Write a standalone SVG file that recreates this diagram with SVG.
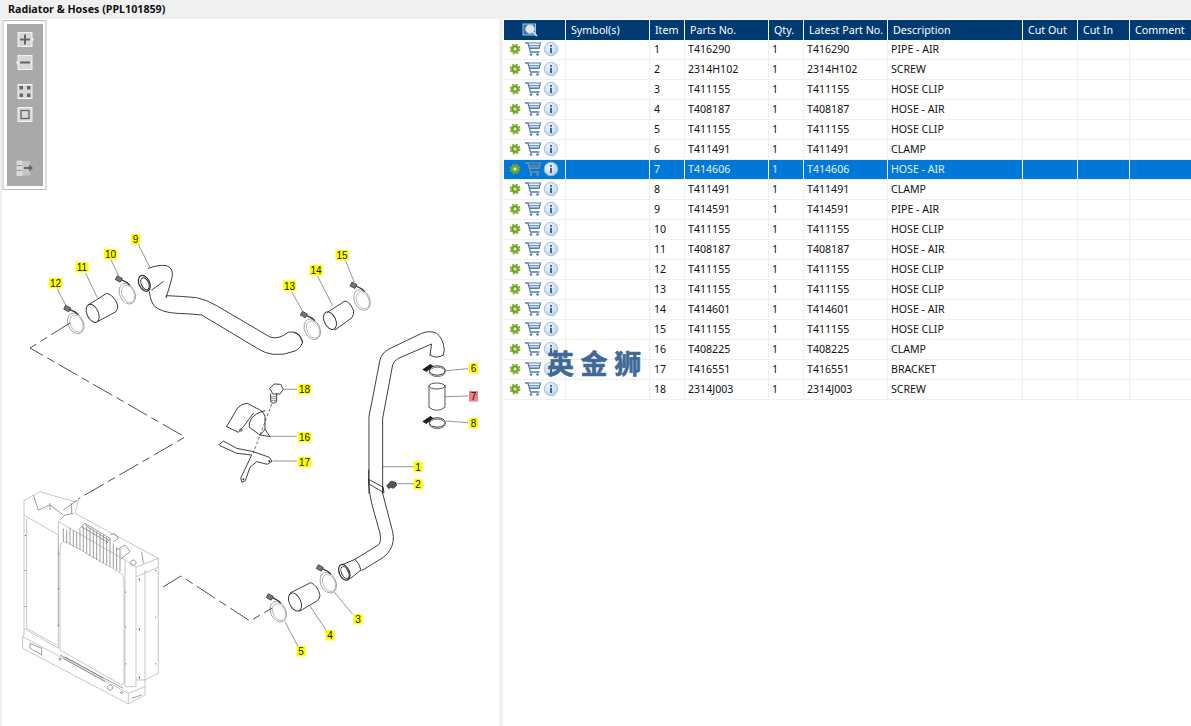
<svg xmlns="http://www.w3.org/2000/svg" xmlns:xlink="http://www.w3.org/1999/xlink" width="1191" height="726" viewBox="0 0 1191 726">
<style>
text{font-family:"Noto Sans","Open Sans","Liberation Sans",sans-serif}
.title{font-size:10.7px;font-weight:700;fill:#111}
.h{font-size:10.7px;fill:#fff}
.c{font-size:10.6px;fill:#111}
.sel{fill:#e6f0fa}
.grid{stroke:#efefef;stroke-width:1;fill:none}
.hs{stroke:#fff;stroke-width:1}
.lab{font-size:10px;fill:#111;text-anchor:middle;font-family:"Liberation Sans",sans-serif}
.y{fill:#ffff00}.p{fill:#f08080}
.k{fill:none;stroke:#2a2a2a;stroke-width:2.7;stroke-linejoin:round;stroke-linecap:round}
.g{fill:none;stroke:#999;stroke-width:2.4}
.r{fill:none;stroke:#aaa;stroke-width:2}
.r2{fill:none;stroke:#777;stroke-width:2.2}
.btn{fill:#d8d8d8;stroke:#f2f2f2;stroke-width:1}
.bg{fill:#666}
</style>
<defs>
<radialGradient id="ig" cx=".4" cy=".35" r=".8"><stop offset="0" stop-color="#f4f8fc"/><stop offset="1" stop-color="#a9c8e4"/></radialGradient>
<g id="gear"><circle r="4" fill="#76a82a"/><circle r="4.7" fill="none" stroke="#76a82a" stroke-width="1.4" stroke-dasharray="2.1 1.6"/><circle r="1.5" fill="#e4efc8"/></g>
<g id="cart" fill="none" stroke="currentColor"><path d="M-8-6h3l2.500 9h9" stroke-width="1.300"/><path d="M-4.500-6H7.500L6-.5H-3" stroke-width="1.200"/><path d="M-4-3.600H7M-3.400-1.800H6.400" stroke-width=".9"/><circle cx="-2" cy="5.500" r="1.300" fill="currentColor" stroke="none"/><circle cx="4.500" cy="5.500" r="1.300" fill="currentColor" stroke="none"/></g>
<g id="info"><circle r="6.800" fill="url(#ig)" stroke="#9dbbd8" stroke-width=".8"/><rect x="-1" y="-1.200" width="2" height="5.200" fill="#35699c"/><rect x="-1" y="-4" width="2" height="1.800" fill="#35699c"/></g>
<g id="clip"><ellipse cx="0" cy="0" rx="7.600" ry="10.800" transform="rotate(-25)" class="g" style="stroke-width:.8"/><ellipse cx="0.600" cy="0.600" rx="6" ry="9" transform="rotate(-25)" class="g" style="stroke-width:.6"/><path d="M-7-14.500l7 3.500l2.500 2.500" fill="none" stroke="#333" stroke-width="1.300"/><path d="M-10-18l5 2.700l-2 3.800l-5-2.700z" fill="#777" stroke="#333" stroke-width=".8"/></g>
<g id="clamp"><ellipse cx="0" cy="0" rx="8" ry="4.700" fill="none" stroke="#333" stroke-width="1"/><ellipse cx="0" cy="1.400" rx="8" ry="4.700" fill="none" stroke="#555" stroke-width=".8"/><path d="M-15-1l8-5.500l3 2l-7 6z" fill="#222"/></g>
</defs>
<rect width="1191" height="726" fill="#fff"/>
<g id="title-bar"><rect width="1191" height="19" fill="#f0f0f0"/><text class="title" x="8" y="12.500">Radiator &amp; Hoses (PPL101859)</text><rect x="499" y="19" width="4" height="707" fill="#f0f0f0"/><rect y="19" width="2" height="707" fill="#f0f0f0"/></g>
<g id="toolbar">
<rect x="3" y="20.500" width="43" height="169" fill="#fff" stroke="#bbb"/><rect x="7" y="24" width="36" height="162" fill="#a9a9a9"/>
<rect class="btn" x="18" y="32.500" width="14" height="14"/><path class="bg" d="M20 38.500h10v2H20zM24 34.500h2v10h-2z"/><path d="M32 37l2 2.500-2 2.500z" fill="#eee"/>
<rect class="btn" x="18" y="55.500" width="14" height="14"/><path class="bg" d="M20 61.500h10v2H20z"/><path d="M18 60l-2 2.500 2 2.500z" fill="#eee"/>
<rect class="btn" x="18" y="84.500" width="14" height="14"/><path class="bg" d="M19.500 86h3.500v3.500h-3.500zM27 86h3.500v3.500H27zM19.500 93.500h3.500v3.500h-3.500zM27 93.500h3.500v3.500H27z"/>
<rect class="btn" x="18" y="107.500" width="14" height="14"/><rect x="21" y="110.500" width="8" height="8" fill="none" stroke="#666" stroke-width="1.300"/>
<rect x="17" y="161" width="5" height="14.500" fill="#d8d8d8" stroke="#eee" stroke-width=".6"/><path d="M17 165.500h5M17 170.500h5" stroke="#888" stroke-width=".8"/><rect x="22" y="161" width="8" height="14.500" fill="#d0d0d0" opacity=".7"/><path class="bg" d="M24 167h5v-2.500l4 3.500-4 3.500V169h-5z"/>
</g>
<g id="parts-table">
<rect x="504" y="20" width="687" height="20" fill="#003a72"/>
<rect x="504" y="160" width="687" height="20" fill="#0078d7"/>
<path class="grid" d="M504 59.500H1191M504 79.500H1191M504 99.500H1191M504 119.500H1191M504 139.500H1191M504 159.500H1191M504 179.500H1191M504 199.500H1191M504 219.500H1191M504 239.500H1191M504 259.500H1191M504 279.500H1191M504 299.500H1191M504 319.500H1191M504 339.500H1191M504 359.500H1191M504 379.500H1191M504 399.500H1191"/>
<path class="grid" d="M565.500 40V400M649.500 40V400M684.500 40V400M768.500 40V400M803.500 40V400M887.500 40V400M1022.500 40V400M1077.500 40V400M1129.500 40V400"/>
<path class="hs" d="M565.500 20V40M649.500 20V40M684.500 20V40M768.500 20V40M803.500 20V40M887.500 20V40M1022.500 20V40M1077.500 20V40M1129.500 20V40"/>
<path class="hs" d="M565.500 160V180M649.500 160V180M684.500 160V180M768.500 160V180M803.500 160V180M887.500 160V180M1022.500 160V180M1077.500 160V180M1129.500 160V180" stroke-opacity=".8"/>
<g id="find-icon"><rect x="523" y="24" width="12.500" height="11" fill="#2f6fa8" stroke="#9cc6e6"/><circle cx="530" cy="29" r="4.500" fill="#e4e4e4" stroke="#a9bbcb"/><path d="M533 32l4 4" stroke="#cfe3f3" stroke-width="1.700"/></g>
<text class="h" x="571" y="34">Symbol(s)</text><text class="h" x="655" y="34">Item</text><text class="h" x="690" y="34">Parts No.</text><text class="h" x="774" y="34">Qty.</text><text class="h" x="809" y="34">Latest Part No.</text><text class="h" x="893" y="34">Description</text><text class="h" x="1028" y="34">Cut Out</text><text class="h" x="1083" y="34">Cut In</text><text class="h" x="1135" y="34">Comment</text>
<g id="row-icons" color="#4f7fb0">
<use href="#gear" x="515" y="49"/><use href="#cart" x="533" y="49"/><use href="#info" x="551" y="49"/>
<use href="#gear" x="515" y="69"/><use href="#cart" x="533" y="69"/><use href="#info" x="551" y="69"/>
<use href="#gear" x="515" y="89"/><use href="#cart" x="533" y="89"/><use href="#info" x="551" y="89"/>
<use href="#gear" x="515" y="109"/><use href="#cart" x="533" y="109"/><use href="#info" x="551" y="109"/>
<use href="#gear" x="515" y="129"/><use href="#cart" x="533" y="129"/><use href="#info" x="551" y="129"/>
<use href="#gear" x="515" y="149"/><use href="#cart" x="533" y="149"/><use href="#info" x="551" y="149"/>
<use href="#gear" x="515" y="169"/><use href="#cart" x="533" y="169" color="#7d8ea0"/><use href="#info" x="551" y="169"/>
<use href="#gear" x="515" y="189"/><use href="#cart" x="533" y="189"/><use href="#info" x="551" y="189"/>
<use href="#gear" x="515" y="209"/><use href="#cart" x="533" y="209"/><use href="#info" x="551" y="209"/>
<use href="#gear" x="515" y="229"/><use href="#cart" x="533" y="229"/><use href="#info" x="551" y="229"/>
<use href="#gear" x="515" y="249"/><use href="#cart" x="533" y="249"/><use href="#info" x="551" y="249"/>
<use href="#gear" x="515" y="269"/><use href="#cart" x="533" y="269"/><use href="#info" x="551" y="269"/>
<use href="#gear" x="515" y="289"/><use href="#cart" x="533" y="289"/><use href="#info" x="551" y="289"/>
<use href="#gear" x="515" y="309"/><use href="#cart" x="533" y="309"/><use href="#info" x="551" y="309"/>
<use href="#gear" x="515" y="329"/><use href="#cart" x="533" y="329"/><use href="#info" x="551" y="329"/>
<use href="#gear" x="515" y="349"/><use href="#cart" x="533" y="349"/><use href="#info" x="551" y="349"/>
<use href="#gear" x="515" y="369"/><use href="#cart" x="533" y="369"/><use href="#info" x="551" y="369"/>
<use href="#gear" x="515" y="389"/><use href="#cart" x="533" y="389"/><use href="#info" x="551" y="389"/>
</g>
<g>
<text class="c" x="654" y="53">1</text><text class="c" x="688" y="53">T416290</text><text class="c" x="772" y="53">1</text><text class="c" x="807" y="53">T416290</text><text class="c" x="891" y="53">PIPE - AIR</text>
<text class="c" x="654" y="73">2</text><text class="c" x="688" y="73">2314H102</text><text class="c" x="772" y="73">1</text><text class="c" x="807" y="73">2314H102</text><text class="c" x="891" y="73">SCREW</text>
<text class="c" x="654" y="93">3</text><text class="c" x="688" y="93">T411155</text><text class="c" x="772" y="93">1</text><text class="c" x="807" y="93">T411155</text><text class="c" x="891" y="93">HOSE CLIP</text>
<text class="c" x="654" y="113">4</text><text class="c" x="688" y="113">T408187</text><text class="c" x="772" y="113">1</text><text class="c" x="807" y="113">T408187</text><text class="c" x="891" y="113">HOSE - AIR</text>
<text class="c" x="654" y="133">5</text><text class="c" x="688" y="133">T411155</text><text class="c" x="772" y="133">1</text><text class="c" x="807" y="133">T411155</text><text class="c" x="891" y="133">HOSE CLIP</text>
<text class="c" x="654" y="153">6</text><text class="c" x="688" y="153">T411491</text><text class="c" x="772" y="153">1</text><text class="c" x="807" y="153">T411491</text><text class="c" x="891" y="153">CLAMP</text>
<text class="c sel" x="654" y="173">7</text><text class="c sel" x="688" y="173">T414606</text><text class="c sel" x="772" y="173">1</text><text class="c sel" x="807" y="173">T414606</text><text class="c sel" x="891" y="173">HOSE - AIR</text>
<text class="c" x="654" y="193">8</text><text class="c" x="688" y="193">T411491</text><text class="c" x="772" y="193">1</text><text class="c" x="807" y="193">T411491</text><text class="c" x="891" y="193">CLAMP</text>
<text class="c" x="654" y="213">9</text><text class="c" x="688" y="213">T414591</text><text class="c" x="772" y="213">1</text><text class="c" x="807" y="213">T414591</text><text class="c" x="891" y="213">PIPE - AIR</text>
<text class="c" x="654" y="233">10</text><text class="c" x="688" y="233">T411155</text><text class="c" x="772" y="233">1</text><text class="c" x="807" y="233">T411155</text><text class="c" x="891" y="233">HOSE CLIP</text>
<text class="c" x="654" y="253">11</text><text class="c" x="688" y="253">T408187</text><text class="c" x="772" y="253">1</text><text class="c" x="807" y="253">T408187</text><text class="c" x="891" y="253">HOSE - AIR</text>
<text class="c" x="654" y="273">12</text><text class="c" x="688" y="273">T411155</text><text class="c" x="772" y="273">1</text><text class="c" x="807" y="273">T411155</text><text class="c" x="891" y="273">HOSE CLIP</text>
<text class="c" x="654" y="293">13</text><text class="c" x="688" y="293">T411155</text><text class="c" x="772" y="293">1</text><text class="c" x="807" y="293">T411155</text><text class="c" x="891" y="293">HOSE CLIP</text>
<text class="c" x="654" y="313">14</text><text class="c" x="688" y="313">T414601</text><text class="c" x="772" y="313">1</text><text class="c" x="807" y="313">T414601</text><text class="c" x="891" y="313">HOSE - AIR</text>
<text class="c" x="654" y="333">15</text><text class="c" x="688" y="333">T411155</text><text class="c" x="772" y="333">1</text><text class="c" x="807" y="333">T411155</text><text class="c" x="891" y="333">HOSE CLIP</text>
<text class="c" x="654" y="353">16</text><text class="c" x="688" y="353">T408225</text><text class="c" x="772" y="353">1</text><text class="c" x="807" y="353">T408225</text><text class="c" x="891" y="353">CLAMP</text>
<text class="c" x="654" y="373">17</text><text class="c" x="688" y="373">T416551</text><text class="c" x="772" y="373">1</text><text class="c" x="807" y="373">T416551</text><text class="c" x="891" y="373">BRACKET</text>
<text class="c" x="654" y="393">18</text><text class="c" x="688" y="393">2314J003</text><text class="c" x="772" y="393">1</text><text class="c" x="807" y="393">2314J003</text><text class="c" x="891" y="393">SCREW</text>
</g>
</g>
<g id="watermark"><text x="547" y="374" stroke="#3f6a98" stroke-width=".6" style="font-family:'Noto Sans CJK SC','Noto Sans',sans-serif;font-size:27px;font-weight:700;letter-spacing:6.600px" fill="#3f6a98">英金狮</text></g>

<g id="radiator" transform="translate(10 480) scale(.3333)">
<path class="r" d="M42 62L90 35L140 50L195 65L205 60L195 100L445 235V580L405 600V645L355 672L38 505V470L42 465V62Z"/>
<path class="r" d="M42 105L145 165V440M50 115V445L140 495M42 445L145 505M38 470L355 640V672M355 640L405 620"/>
<path class="r" d="M145 125L345 240V620M145 125V505M345 240L378 262V620L345 620M378 262L445 235M378 290L445 262M405 270V600M378 600L405 600"/>
<path class="r" d="M160 185Q150 190 150 205V510L335 615Q342 615 342 605V300Q342 285 330 278L170 186Z"/>
<path class="r2" d="M70 45L85 90L120 75L160 105M120 70V90M185 70V100M150 120L165 105L190 100M160 90L200 62"/>
<path class="r2" d="M160 145V185M170 150V190M180 145V195M190 150V200M200 155V205M210 150V210M220 140V215M230 140V222M240 145V228M250 150V235M260 155V240M270 160V245M280 165V250M290 170V255M300 175V260M310 190V265M320 200V270M330 205V275"/>
<path class="r2" d="M205 150L225 130L300 175L290 190M215 140L290 185M225 135L295 180M300 165Q315 155 325 175L310 185M320 210L345 195L360 215L335 235M395 215L400 250M370 240a8 8 0 1 0 .1 0"/>
<path class="r2" d="M150 525L340 625M160 535L285 605M165 530L280 595M300 615a8 8 0 1 0 .1 0M60 490L95 505V525L60 505ZM150 535a3 3 0 1 0 .1 0M335 635a3 3 0 1 0 .1 0M365 655L395 645"/>
<path d="M46 165v3M46 270v3M46 378v3M146 220v3M146 325v3M146 435v3M347 335v3M347 440v3M347 550v3M388 295v6M388 445v6M388 590v6M437 270v3M437 410v3M437 550v3" stroke="#555" stroke-width="3"/>
</g>

<g id="part-9" transform="translate(20 225) scale(.3333)">
<path class="k" d="M385 130Q415 118 440 122Q462 130 456 158Q448 190 438 218L440 212Q490 214 530 218Q560 224 590 242L750 336Q775 345 805 322Q825 318 838 330L848 352Q840 372 825 378Q790 392 760 388Q735 385 715 372L545 270Q510 266 470 265Q425 262 405 245Q392 232 388 200"/>
<path class="k" d="M395 195L430 170"/>
<ellipse class="k" cx="373" cy="175" rx="16" ry="25" transform="rotate(-25 373 175)" style="stroke-width:3.500"/>
<ellipse class="k" cx="375" cy="176" rx="11" ry="19" transform="rotate(-25 375 176)"/>
<path class="k" d="M822 322Q845 330 848 352"/>
</g>
<g id="part-11" transform="translate(20 225) scale(.3333)"><path class="k" d="M205 240L260 205Q282 210 293 240Q295 250 288 260L232 290"/><ellipse class="k" cx="218" cy="265" rx="17" ry="29" transform="rotate(-25 218 265)"/></g>
<g id="part-14" transform="translate(20 225) scale(.3333)"><path class="k" d="M922 262L975 228Q992 232 1001 258Q1002 268 996 278L945 315"/><ellipse class="k" cx="930" cy="287" rx="17" ry="28" transform="rotate(-25 930 287)"/></g>
<g id="part-4" transform="translate(260 470) scale(.3333)"><path class="k" d="M92 368L152 338Q172 345 180 375Q180 385 172 392L120 423"/><ellipse class="k" cx="105" cy="396" rx="17" ry="29" transform="rotate(-25 105 396)"/></g>
<g id="part-10"><use href="#clip" x="127.300" y="293.700"/></g>
<g id="part-12"><use href="#clip" x="75.700" y="323.300"/></g>
<g id="part-13"><use href="#clip" x="312.300" y="329.300"/></g>
<g id="part-15"><use href="#clip" x="362" y="300"/></g>
<g id="part-3"><use href="#clip" x="328.300" y="582.700"/></g>
<g id="part-5"><use href="#clip" x="278.300" y="611.700"/></g>
<g id="part-1">
<g transform="translate(210 320) scale(.3333)">
<path class="k" d="M477 520V290L510 120Q515 100 535 88L635 40Q660 30 680 40Q700 55 703 90L700 105"/>
<path class="k" d="M518 520V295L548 135Q552 122 565 115L665 72L660 105"/>
<path class="k" d="M660 105Q680 118 700 105"/>
</g>
<g transform="translate(260 470) scale(.3333)">
<path class="k" d="M326 0V40Q328 70 335 100L360 190Q365 215 355 225L285 268"/>
<path class="k" d="M368 50V70L398 185Q405 215 390 240Q385 250 370 262L305 302"/>
<path class="k" d="M326 28L370 52L372 68L330 44Z"/>
<path class="k" d="M250 283L285 268Q298 280 303 300L272 325"/>
<ellipse class="k" cx="253" cy="307" rx="15" ry="25" transform="rotate(-25 253 307)" style="stroke-width:3.500"/>
<ellipse class="k" cx="255" cy="308" rx="10" ry="19" transform="rotate(-25 255 308)"/>
</g>
</g>
<g id="part-2" transform="translate(210 320) scale(.3333)"><path d="M530 497l14-14l14 5l2 9l-10 8l-8-3l-6 4z" fill="#555" stroke="#222" stroke-width="2"/></g>
<g id="part-6"><use href="#clamp" x="437.300" y="370.500"/></g>
<g id="part-7" transform="translate(210 320) scale(.3333)"><path class="k" d="M657 198V262Q680 280 705 262V198" style="stroke:#444"/><ellipse class="k" cx="681" cy="198" rx="24" ry="9" style="stroke:#444"/></g>
<g id="part-8"><use href="#clamp" x="437.300" y="422.500"/></g>
<g id="part-16" transform="translate(210 320) scale(.3333)"><path class="k" d="M50 320L82 265Q95 250 112 250L140 265Q160 272 165 290V328L180 350L150 345L118 322Q115 310 125 295Q135 280 165 272M50 320L85 337L100 320L130 280M150 345L165 328"/><circle cx="93" cy="330" r="4" fill="none" stroke="#333" stroke-width="2"/></g>
<g id="part-17" transform="translate(210 320) scale(.3333)"><path class="k" d="M30 372L40 363L80 385L130 395L178 412L186 424L172 433L140 425L120 442L106 482L96 487L92 475L125 405L80 400L30 377Z"/><circle cx="178" cy="424" r="3" fill="#333"/><circle cx="100" cy="478" r="3" fill="#333"/></g>
<g id="part-18" transform="translate(210 320) scale(.3333)"><path class="k" d="M180 205L192 192L212 193L220 208L210 222L190 222Z"/><path class="k" d="M182 222V245L190 250L200 245V222"/><path d="M182 230h18M182 236h18M182 242h18" stroke="#555" stroke-width="2"/></g>

<g id="connectors">
<g fill="none" stroke="#222" stroke-width=".8" stroke-dasharray="22 5 8 5"><path d="M70 323L30 348L185 437L78 499"/><path d="M163 587L181 576L250 621L272 608"/></g>
<g fill="none" stroke="#666" stroke-width=".7">
<path d="M383 466.700H414M397 483.700H414M446 370.700L468 368.700M445 396.700L468 396M446 421L468 422.700M283.300 389.300H297M270 436.300H297M272.700 461H297"/>
<path d="M150 267.700L138.300 244.300M118.300 275L110.700 259.300M97.300 297.700L85.700 273.300M65.700 305L57.300 289M303.300 312.300L291.700 291.700M332.700 305.700L317.300 275.700M354.300 282.300L345.700 260.700"/>
<path d="M334 591.700L352.700 614.300M310 606L326 630M285 621.700L297.700 646"/>
<path d="M271.700 404L253.300 453" stroke-dasharray="3 2" stroke="#333"/>
</g>
</g>
<g id="labels">
<rect class="y" x="413.500" y="461.500" width="9" height="10.500"/><text class="lab" x="418" y="470.500">1</text>
<rect class="y" x="413.500" y="479" width="9" height="10.500"/><text class="lab" x="418" y="488">2</text>
<rect class="y" x="353.500" y="614" width="9" height="10.500"/><text class="lab" x="358" y="623">3</text>
<rect class="y" x="325.500" y="630" width="9" height="10.500"/><text class="lab" x="330" y="639">4</text>
<rect class="y" x="296.500" y="646" width="9" height="10.500"/><text class="lab" x="301" y="655">5</text>
<rect class="y" x="469" y="363" width="9" height="10.500"/><text class="lab" x="473.500" y="372">6</text>
<rect class="p" x="469" y="391" width="9" height="10.500"/><text class="lab" x="473.500" y="400">7</text>
<rect class="y" x="469" y="418" width="9" height="10.500"/><text class="lab" x="473.500" y="427">8</text>
<rect class="y" x="131" y="234" width="9" height="10.500"/><text class="lab" x="135.500" y="243">9</text>
<rect class="y" x="104" y="249" width="13" height="10.500"/><text class="lab" x="110.500" y="258">10</text>
<rect class="y" x="75.500" y="262" width="13" height="10.500"/><text class="lab" x="82" y="271">11</text>
<rect class="y" x="49" y="278" width="13" height="10.500"/><text class="lab" x="55.500" y="287">12</text>
<rect class="y" x="283" y="280.500" width="13" height="10.500"/><text class="lab" x="289.500" y="289.500">13</text>
<rect class="y" x="309.500" y="265" width="13" height="10.500"/><text class="lab" x="316" y="274">14</text>
<rect class="y" x="335.500" y="250" width="13" height="10.500"/><text class="lab" x="342" y="259">15</text>
<rect class="y" x="298" y="432" width="13" height="10.500"/><text class="lab" x="304.500" y="441">16</text>
<rect class="y" x="298" y="457" width="13" height="10.500"/><text class="lab" x="304.500" y="466">17</text>
<rect class="y" x="298" y="384" width="13" height="10.500"/><text class="lab" x="304.500" y="393">18</text>
</g>
</svg>
